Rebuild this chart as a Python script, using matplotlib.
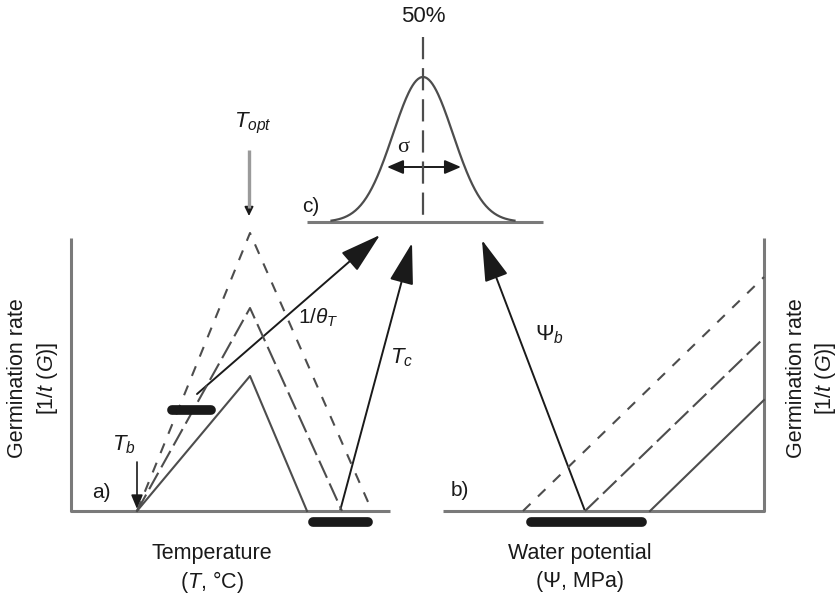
import numpy as np
import matplotlib.pyplot as plt
from matplotlib.patches import FancyArrowPatch

plt.rcParams['font.family'] = ['Liberation Sans', 'DejaVu Sans']
plt.rcParams['mathtext.fontset'] = 'custom'
plt.rcParams['mathtext.rm'] = 'Liberation Sans'
plt.rcParams['mathtext.it'] = 'Liberation Sans:italic'

# Schematic values, in picture units (x to the right, y downwards)
# a) temperature panel: three triangles sharing Tb and Topt
tb_x = 137
topt_x = 250
base_a = 511
tri_peak_y = [376, 308, 233]          # solid, long dash, short dash
tri_end_x = [307, 342, 372]
tri_styles = ['-', (0, (9, 3)), (0, (5, 5))]

# b) water potential panel: three parallel lines
base_b = 511
psi_axis_x = 764
psi_start_x = [650, 585, 523]
psi_end_y = [400, 338, 277]

# c) normal distribution of thresholds
bell_center = 423
bell_sigma = 30
bell_top = 77
bell_base = 222

BLACK = '#1a1a1a'
GREY = '#4d4d4d'
AXGREY = '#7a7a7a'

fig = plt.figure(figsize=(8.4, 5.96), dpi=100)
ax = fig.add_axes([0, 0, 1, 1])
ax.set_xlim(0, 840)
ax.set_ylim(596, 0)
ax.axis('off')


def arrow(p0, p1, hl=1.3, hw=0.38, ms=20, lw=1.4, color=BLACK, style='-|>'):
    a = FancyArrowPatch(p0, p1, arrowstyle=f'{style},head_length={hl},head_width={hw}',
                        mutation_scale=ms, lw=lw, color=color, shrinkA=0, shrinkB=0)
    ax.add_patch(a)


# --- panel a) ---
ax.plot([71, 71, 390], [238, base_a, base_a], color=AXGREY, lw=2.2, solid_capstyle='butt')
for peak, end, ls in zip(tri_peak_y, tri_end_x, tri_styles):
    ax.plot([tb_x, topt_x, end], [base_a, peak, base_a], color=GREY, lw=1.5, linestyle=ls)

ax.plot([172, 211], [410, 410], color=BLACK, lw=7, solid_capstyle='round')
ax.plot([313, 368], [522, 522], color=BLACK, lw=7, solid_capstyle='round')

arrow((tb_x, 462), (tb_x, 509), hl=0.6, hw=0.25, ms=14, lw=1.2)
ax.plot([topt_x - 1, topt_x - 1], [150, 208], color='#9a9a9a', lw=2.4, solid_capstyle='butt')
arrow((topt_x - 1, 205), (topt_x - 1, 216), hl=0.45, hw=0.22, ms=12, lw=1.2)
arrow((197, 394), (380, 235))
arrow((340, base_a), (412, 243))

ax.text(253, 123, r'$T_{opt}$', fontsize=16, ha='center', va='center', color=BLACK)
ax.text(124, 445, r'$T_b$', fontsize=16, ha='center', va='center', color=BLACK)
ax.text(298, 318, r'$1/\theta_T$', fontsize=15, ha='left', va='center', color=BLACK)
ax.text(390, 358, r'$T_c$', fontsize=16, ha='left', va='center', color=BLACK)
ax.text(101, 493, 'a)', fontsize=15, ha='center', va='center', color=BLACK)
ax.text(212, 553, 'Temperature', fontsize=15.5, ha='center', va='center', color=BLACK)
ax.text(212, 582, r'($T$, °C)', fontsize=15.5, ha='center', va='center', color=BLACK)
ax.text(18, 378, 'Germination rate', fontsize=15.5, rotation=90, ha='center', va='center', color=BLACK)
ax.text(48, 378, r'[1/$t$ ($G$)]', fontsize=15.5, rotation=90, ha='center', va='center', color=BLACK)

# --- panel b) ---
ax.plot([443, psi_axis_x, psi_axis_x], [base_b, base_b, 238], color=AXGREY, lw=2.2, solid_capstyle='butt')
for sx, ey, ls in zip(psi_start_x, psi_end_y, tri_styles):
    ax.plot([sx, psi_axis_x], [base_b, ey], color=GREY, lw=1.5, linestyle=ls)

ax.plot([531, 642], [522, 522], color=BLACK, lw=7, solid_capstyle='round')
arrow((585, base_b), (482, 240))

ax.text(535, 335, r'$\Psi_b$', fontsize=16, ha='left', va='center', color=BLACK)
ax.text(460, 490, 'b)', fontsize=15, ha='center', va='center', color=BLACK)
ax.text(580, 553, 'Water potential', fontsize=15.5, ha='center', va='center', color=BLACK)
ax.text(580, 582, '(Ψ, MPa)', fontsize=15.5, ha='center', va='center', color=BLACK)
ax.text(797, 378, 'Germination rate', fontsize=15.5, rotation=90, ha='center', va='center', color=BLACK)
ax.text(826, 378, r'[1/$t$ ($G$)]', fontsize=15.5, rotation=90, ha='center', va='center', color=BLACK)

# --- panel c) ---
ax.plot([307, 543], [bell_base, bell_base], color=AXGREY, lw=2.2, solid_capstyle='butt')
bx = np.linspace(bell_center - 3.05 * bell_sigma, bell_center + 3.05 * bell_sigma, 200)
by = bell_base - (bell_base - bell_top) * np.exp(-0.5 * ((bx - bell_center) / bell_sigma) ** 2)
ax.plot(bx, by, color=GREY, lw=1.6)
ax.plot([bell_center, bell_center], [37, bell_base], color=GREY, lw=1.6, linestyle=(0, (10, 4)))
arrow((387, 167), (461, 167), hl=0.7, hw=0.3, ms=14, lw=1.4, style='<|-|>')

ax.text(423, 17, '50%', fontsize=16, ha='center', va='center', color=BLACK)
ax.text(403, 147, 'σ', fontsize=16, ha='center', va='center', color=BLACK, family='Liberation Serif')
ax.text(311, 207, 'c)', fontsize=15, ha='center', va='center', color=BLACK)

plt.savefig('out.png', dpi=100)
